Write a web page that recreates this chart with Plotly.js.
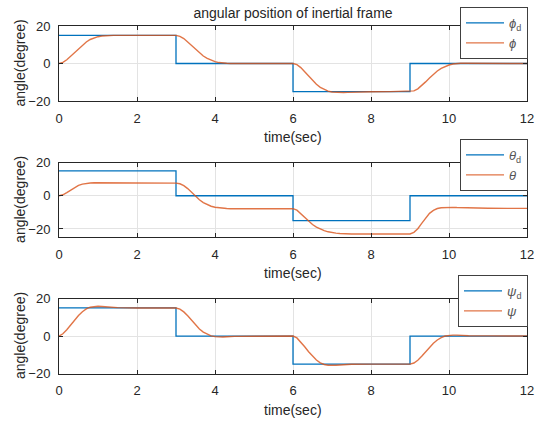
<!DOCTYPE html>
<html>
<head>
<meta charset="utf-8">
<script src="https://cdn.plot.ly/plotly-3.0.1.min.js"></script>
<style>
  html, body { margin: 0; padding: 0; background: #ffffff; }
  #chart { width: 543px; height: 422px; }
</style>
</head>
<body>
<div id="chart"></div>
<script>
// Commanded attitude steps (held until the next switching time)
const stepTimes = [0, 3, 6, 9, 12];
const phiRef   = [15, 0, -15, 0, 0];
const thetaRef = [15, 0, -15, 0, 0];
const psiRef   = [15, 0, -15, 0, 0];

// Simulation sample times (dense around each command change)
const time = [
  0, 0.1, 0.2, 0.3, 0.4, 0.5, 0.6, 0.7, 0.8, 0.9, 1.0, 1.1, 1.2, 1.3, 1.4, 1.5,
  2, 2.5,
  3, 3.1, 3.2, 3.3, 3.4, 3.5, 3.6, 3.7, 3.8, 3.9, 4.0, 4.1, 4.2, 4.3, 4.4, 4.5,
  5, 5.5,
  6, 6.1, 6.2, 6.3, 6.4, 6.5, 6.6, 6.7, 6.8, 6.9, 7.0, 7.1, 7.2, 7.3, 7.4, 7.5,
  8, 8.5,
  9, 9.1, 9.2, 9.3, 9.4, 9.5, 9.6, 9.7, 9.8, 9.9, 10.0, 10.1, 10.2, 10.3, 10.4, 10.5,
  11, 11.5, 12
];

// Measured roll angle (deg)
const phi = [
  0, 0.6, 2.0, 3.9, 5.9, 8.0, 10.0, 11.5, 12.8, 13.7, 14.3, 14.7, 14.9, 15.0, 15.0, 15.0,
  15.0, 15.0,
  15.0, 14.5, 13.3, 11.5, 9.5, 7.5, 5.6, 4.0, 2.7, 1.7, 1.0, 0.5, 0.2, 0.1, 0.0, 0.0,
  0.0, 0.0,
  0.0, -0.6, -2.2, -4.4, -6.8, -9.1, -11.1, -12.7, -13.9, -14.7, -15.2, -15.4, -15.5, -15.5, -15.4, -15.3,
  -15.1, -15.0,
  -15.0, -14.6, -13.5, -11.8, -9.8, -7.7, -5.7, -4.0, -2.6, -1.5, -0.8, -0.3, 0.0, 0.1, 0.1, 0.1,
  0.0, 0.0, 0.0
];

// Measured pitch angle (deg)
const theta = [
  0, 0.6, 1.9, 3.5, 5.0, 6.2, 7.0, 7.5, 7.7, 7.8, 7.8, 7.8, 7.7, 7.7, 7.7, 7.7,
  7.6, 7.6,
  7.6, 7.2, 6.1, 4.3, 2.0, -0.3, -2.4, -4.1, -5.4, -6.3, -6.9, -7.3, -7.6, -7.7, -7.8, -7.8,
  -7.8, -7.7,
  -7.8, -8.7, -10.8, -13.2, -15.4, -17.3, -18.9, -20.1, -21.0, -21.7, -22.2, -22.5, -22.7, -22.9, -23.0, -23.0,
  -23.0, -23.0,
  -23.0, -22.0, -19.8, -16.6, -13.3, -10.6, -8.8, -7.7, -7.2, -7.0, -6.9, -7.0, -7.1, -7.2, -7.3, -7.4,
  -7.5, -7.6, -7.6
];

// Measured yaw angle (deg)
const psi = [
  0, 1.2, 3.4, 6.0, 8.6, 11.0, 13.0, 14.5, 15.4, 15.8, 15.9, 15.8, 15.6, 15.4, 15.3, 15.2,
  15.0, 15.0,
  15.0, 14.4, 12.9, 10.8, 8.3, 5.9, 3.8, 2.1, 0.9, 0.1, -0.3, -0.5, -0.5, -0.4, -0.3, -0.2,
  -0.1, 0.0,
  0.0, -1.0, -3.1, -5.7, -8.4, -10.8, -12.8, -14.3, -15.2, -15.6, -15.7, -15.6, -15.5, -15.3, -15.2, -15.1,
  -15.0, -15.0,
  -15.0, -14.4, -12.9, -10.8, -8.3, -5.9, -3.8, -2.1, -0.8, 0.0, 0.4, 0.5, 0.5, 0.4, 0.3, 0.2,
  0.1, 0.0, 0.0
];

const xTicks = [0, 2, 4, 6, 8, 10, 12];
const refNames  = ['<i>ϕ</i><sub>d</sub>', '<i>θ</i><sub>d</sub>', '<i>ψ</i><sub>d</sub>'];
const measNames = ['<i>ϕ</i>', '<i>θ</i>', '<i>ψ</i>'];

const BLUE = '#0072BD';
const ORANGE = '#D95319';
const INK = '#262626';
const FONT = 'Liberation Sans, Arial, Helvetica, sans-serif';

const refs = [phiRef, thetaRef, psiRef];
const meas = [phi, theta, psi];
const traces = [];
for (let k = 0; k < 3; k++) {
  const sfx = k === 0 ? '' : String(k + 1);
  traces.push({
    x: stepTimes, y: refs[k], type: 'scatter', mode: 'lines',
    line: { color: BLUE, width: 1.3, shape: 'hv' },
    name: refNames[k], xaxis: 'x' + sfx, yaxis: 'y' + sfx,
    legend: 'legend' + sfx
  });
  traces.push({
    x: time, y: meas[k], type: 'scatter', mode: 'lines',
    line: { color: ORANGE, width: 1.4 },
    opacity: 0.8,
    name: measNames[k], xaxis: 'x' + sfx, yaxis: 'y' + sfx,
    legend: 'legend' + sfx
  });
}

const W = 543, H = 422;
const px = v => v / W;
const py = v => 1 - v / H;

// panel vertical extents in pixels (top, bottom)
const panels = [[26, 101], [162.5, 237.3], [298.6, 373.5]];
const yRanges = [[-20, 20], [-25, 20], [-20, 20]];
const yTicks = [[-20, 0, 20], [-20, 0, 20], [-20, 0, 20]];

function xAxis(anchor) {
  return {
    domain: [px(59), px(527)], range: [0, 12], anchor: anchor,
    tickvals: xTicks, ticks: 'inside', ticklen: 4, tickcolor: INK,
    showline: true, linecolor: INK, linewidth: 1, mirror: 'ticks',
    showgrid: true, gridcolor: '#e3e3e3', gridwidth: 1, zeroline: false,
    tickfont: { family: FONT, size: 13, color: INK }, ticklabelstandoff: 5
  };
}
function yAxis(anchor, k) {
  return {
    domain: [py(panels[k][1]), py(panels[k][0])], range: yRanges[k], anchor: anchor,
    tickvals: yTicks[k], ticks: 'inside', ticklen: 4, tickcolor: INK,
    showline: true, linecolor: INK, linewidth: 1, mirror: 'ticks',
    showgrid: true, gridcolor: '#e3e3e3', gridwidth: 1, zeroline: false,
    tickfont: { family: FONT, size: 13, color: INK }, ticklabelstandoff: 5
  };
}

const legendTops = [[528, 7], [528, 139], [528, 275]];
function legendCfg(k) {
  return {
    x: px(legendTops[k][0]), xanchor: 'right',
    y: py(legendTops[k][1]), yanchor: 'top',
    bgcolor: '#ffffff', bordercolor: '#404040', borderwidth: 1,
    font: { family: FONT, size: 13, color: '#555555' },
    itemwidth: 38,
    tracegroupgap: 0
  };
}

const annotations = [];
panels.forEach((p, k) => {
  annotations.push({
    text: 'time(sec)', xref: 'paper', yref: 'paper',
    x: px(293), y: py(p[1] + 36), xanchor: 'center', yanchor: 'middle',
    showarrow: false, font: { family: FONT, size: 14, color: INK }
  });
  annotations.push({
    text: 'angle(degree)', xref: 'paper', yref: 'paper', textangle: -90,
    x: px(20), y: py((p[0] + p[1]) / 2), xanchor: 'center', yanchor: 'middle',
    showarrow: false, font: { family: FONT, size: 14, color: INK }
  });
});

const layout = {
  width: W, height: H,
  margin: { l: 0, r: 0, t: 0, b: 0 },
  paper_bgcolor: '#ffffff', plot_bgcolor: '#ffffff',
  font: { family: FONT, color: INK },
  title: {
    text: 'angular position of inertial frame',
    x: px(293), xanchor: 'center', xref: 'paper',
    y: py(13), yanchor: 'middle', yref: 'paper',
    font: { family: FONT, size: 14, color: INK }
  },
  showlegend: true,
  xaxis: xAxis('y'), yaxis: yAxis('x', 0),
  xaxis2: xAxis('y2'), yaxis2: yAxis('x2', 1),
  xaxis3: xAxis('y3'), yaxis3: yAxis('x3', 2),
  legend: legendCfg(0), legend2: legendCfg(1), legend3: legendCfg(2),
  annotations: annotations
};

Plotly.newPlot('chart', traces, layout, { staticPlot: true, displayModeBar: false });
</script>
</body>
</html>
